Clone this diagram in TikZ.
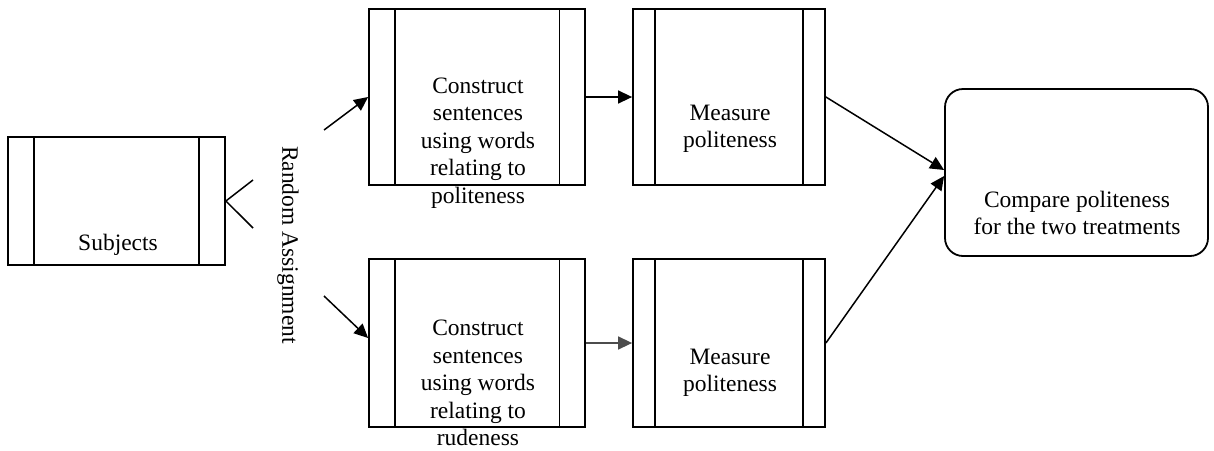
\documentclass[tikz,border=0pt]{standalone}
\usepackage{fontspec}
\setmainfont{Liberation Serif}
\usetikzlibrary{arrows.meta,calc}
\begin{document}
\begin{tikzpicture}[x=1pt,y=-1pt,
  predef/.style={draw, rectangle, line width=1.8pt, inner sep=0pt,
    append after command={
      ([xshift=#1]\tikzlastnode.north west) edge[line width=1.8pt] ([xshift=#1]\tikzlastnode.south west)
      ([xshift=-#1]\tikzlastnode.north east) edge[line width=1.8pt] ([xshift=-#1]\tikzlastnode.south east)
    }},
  lbl/.style={align=center, font=\fontsize{23.5}{27.5}\selectfont, inner sep=0pt},
  arr/.style={line width=1.5pt, -{Triangle[length=14pt,width=13pt]}},
  conn/.style={line width=1.5pt}
]
\useasboundingbox (0,0) rectangle (1214,450);

% boxes
\node[predef=27pt, minimum width=217pt, minimum height=128pt] (subj) at (116.5,201) {};
\node[predef=26.5pt, minimum width=216pt, minimum height=176pt] (ct) at (477,97) {};
\node[predef=23pt, minimum width=192pt, minimum height=176pt] (mt) at (729,97) {};
\node[predef=26.5pt, minimum width=216pt, minimum height=168pt] (cb) at (477,343) {};
\node[predef=23pt, minimum width=192pt, minimum height=168pt] (mb) at (729,343) {};
\node[draw, rectangle, rounded corners=18pt, line width=1.8pt, minimum width=263pt, minimum height=167pt] (cmp) at (1076.5,172.5) {};

% texts
\node[lbl] (tsubj) at (118,245) {Subjects};
\node[lbl, rotate=-90] (tra) at (288,245) {Random Assignment};
\node[lbl] (tct) at (478,143) {Construct\\sentences\\using words\\relating to\\politeness};
\node[lbl] (tmt) at (730,129) {Measure\\politeness};
\node[lbl] (tcb) at (478,383) {Construct\\sentences\\using words\\relating to\\rudeness};
\node[lbl] (tmb) at (730,373) {Measure\\politeness};
\node[lbl] (tcmp) at (1077,213) {Compare politeness\\for the two treatments};

% free ends
\coordinate (vu) at (253,180);
\coordinate (vd) at (253,228);
\coordinate (su) at (324,130);
\coordinate (sd) at (324,296);

% connectors
\draw[conn] (vu) -- (subj.east) -- (vd);
\draw[arr] (su) -- (ct.west);
\draw[arr] (sd) -- ([yshift=5pt]cb.west);
\draw[arr] (ct.east) -- (mt.west);
\draw[arr, draw=black!70] (cb.east) -- (mb.west);
\draw[arr] (mt.east) -- ([yshift=2.5pt]cmp.west);
\draw[arr] (mb.east) -- ([yshift=-3.5pt]cmp.west);
\end{tikzpicture}
\end{document}
